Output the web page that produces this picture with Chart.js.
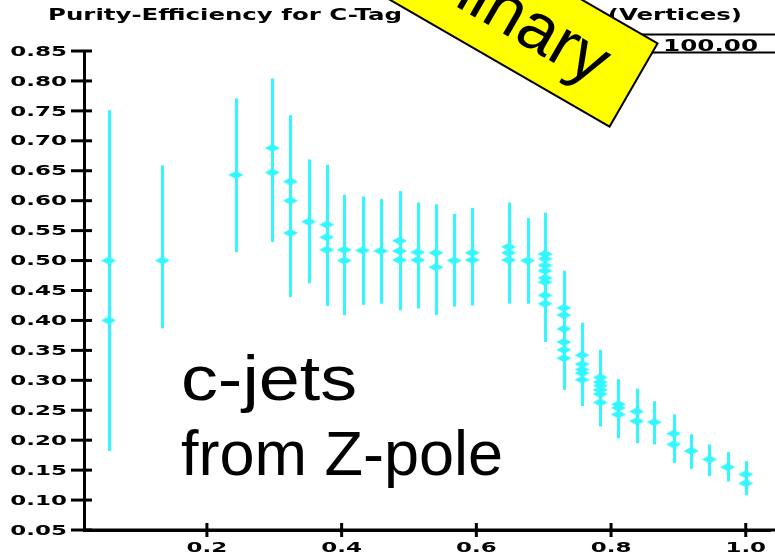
<!DOCTYPE html>
<html>
<head>
<meta charset="utf-8">
<title>Purity-Efficiency for C-Tag</title>
<script src="https://cdn.jsdelivr.net/npm/chart.js@4.4.1/dist/chart.umd.min.js"></script>
<style>
  html, body { margin: 0; padding: 0; background: #fff; }
  #wrap { width: 775px; height: 558px; position: relative; }
</style>
</head>
<body>
<div id="wrap"><canvas id="chart"></canvas></div>
<script>
// Efficiency columns, the purity values measured in each, and the error bar span of the column
const columnEff = [0.054, 0.134, 0.243, 0.297, 0.324, 0.351, 0.378, 0.404, 0.431, 0.458,
  0.486, 0.513, 0.540, 0.567, 0.594, 0.648, 0.676, 0.702, 0.730, 0.757,
  0.784, 0.811, 0.838, 0.864, 0.893, 0.919, 0.946, 0.973, 1.000];
const columnPurity = [
  [0.50, 0.40], [0.50], [0.643], [0.688, 0.647], [0.632, 0.600, 0.546],
  [0.565], [0.560, 0.539, 0.518], [0.518, 0.500], [0.517], [0.516],
  [0.533, 0.516, 0.501], [0.514, 0.501], [0.513, 0.489], [0.500], [0.513, 0.501],
  [0.523, 0.513, 0.501], [0.500],
  [0.511, 0.503, 0.492, 0.483, 0.471, 0.464, 0.442, 0.428],
  [0.421, 0.409, 0.386, 0.364, 0.351, 0.337],
  [0.342, 0.327, 0.318, 0.312, 0.301],
  [0.305, 0.297, 0.291, 0.284, 0.277, 0.263],
  [0.260, 0.254, 0.243], [0.248, 0.232], [0.230], [0.211, 0.193],
  [0.182], [0.168], [0.155], [0.143, 0.128]
];
const columnLow = [0.182, 0.387, 0.514, 0.531, 0.439, 0.462, 0.424, 0.409, 0.426, 0.428,
  0.417, 0.420, 0.409, 0.423, 0.425, 0.428, 0.428, 0.364, 0.284, 0.257,
  0.223, 0.203, 0.195, 0.193, 0.162, 0.152, 0.140, 0.131, 0.108];
const columnHigh = [0.751, 0.659, 0.771, 0.804, 0.743, 0.669, 0.660, 0.610, 0.607, 0.603,
  0.616, 0.597, 0.594, 0.578, 0.588, 0.597, 0.571, 0.580, 0.483, 0.396,
  0.351, 0.302, 0.286, 0.265, 0.243, 0.210, 0.193, 0.180, 0.165];

const xTicks = [0.2, 0.4, 0.6, 0.8, 1.0];
const yTicks = [0.05, 0.10, 0.15, 0.20, 0.25, 0.30, 0.35, 0.40, 0.45, 0.50,
  0.55, 0.60, 0.65, 0.70, 0.75, 0.80, 0.85];

const titleLeft = 'Purity-Efficiency for C-Tag';
const titleRight = '(Vertices)';
const statsValue = '100.00';
const noteLines = ['c-jets', 'from Z-pole'];
const stampText = 'Preliminary';

const CYAN = '#33f6ff';

const points = [];
columnEff.forEach((x, i) => {
  columnPurity[i].forEach(y => points.push({x: x, y: y}));
});

// flattened diamond marker
function makeMarker() {
  const c = document.createElement('canvas');
  c.width = 15;
  c.height = 8;
  const g = c.getContext('2d');
  g.fillStyle = CYAN;
  g.beginPath();
  g.moveTo(0, 4);
  g.lineTo(7.5, 0);
  g.lineTo(15, 4);
  g.lineTo(7.5, 8);
  g.closePath();
  g.fill();
  return c;
}

// text stretched horizontally
function wideText(ctx, text, x, y, align, font, sx) {
  ctx.save();
  ctx.font = font;
  ctx.textAlign = align;
  ctx.translate(x, y);
  ctx.scale(sx, 1);
  ctx.fillText(text, 0, 0);
  ctx.restore();
}

const bold = size => 'bold ' + size + 'px "DejaVu Sans"';

const errorBars = {
  id: 'errorBars',
  beforeDatasetsDraw(chart) {
    const {ctx, scales: {x, y}} = chart;
    ctx.save();
    ctx.strokeStyle = CYAN;
    ctx.lineWidth = 3;
    columnEff.forEach((v, i) => {
      const px = Math.round(x.getPixelForValue(v)) + 0.5;
      ctx.beginPath();
      ctx.moveTo(px, y.getPixelForValue(columnLow[i]));
      ctx.lineTo(px, y.getPixelForValue(columnHigh[i]));
      ctx.stroke();
    });
    ctx.restore();
  }
};

const decorations = {
  id: 'decorations',
  afterDraw(chart) {
    const {ctx, scales: {x, y}} = chart;
    const left = chart.chartArea.left;
    const bottom = chart.chartArea.bottom;
    ctx.save();
    ctx.fillStyle = '#000';
    ctx.strokeStyle = '#000';

    // x axis line runs to the right edge
    ctx.lineWidth = 3;
    ctx.beginPath();
    ctx.moveTo(left, bottom);
    ctx.lineTo(chart.width, bottom);
    ctx.stroke();

    // ticks crossing the axes
    yTicks.forEach(v => {
      const py = y.getPixelForValue(v);
      ctx.beginPath();
      ctx.moveTo(left - 13, py);
      ctx.lineTo(left + 8, py);
      ctx.stroke();
    });
    xTicks.forEach(v => {
      const px = x.getPixelForValue(v);
      ctx.beginPath();
      ctx.moveTo(px, bottom - 7);
      ctx.lineTo(px, bottom + 7);
      ctx.stroke();
    });

    // tick labels
    ctx.textBaseline = 'middle';
    yTicks.forEach(v => {
      wideText(ctx, v.toFixed(2), left - 17, y.getPixelForValue(v) + 1, 'right', bold(14), 1.64);
    });
    xTicks.forEach(v => {
      wideText(ctx, v.toFixed(1), x.getPixelForValue(v), bottom + 18, 'center', bold(14), 1.64);
    });

    // title and stats box
    ctx.textBaseline = 'alphabetic';
    wideText(ctx, titleLeft, 48, 20, 'left', bold(15), 1.63);
    wideText(ctx, titleRight, 742, 20, 'right', bold(15), 1.63);
    ctx.lineWidth = 2;
    ctx.beginPath();
    ctx.moveTo(560, 34.5);
    ctx.lineTo(775, 34.5);
    ctx.moveTo(560, 52.5);
    ctx.lineTo(775, 52.5);
    ctx.stroke();
    wideText(ctx, statsValue, 758, 50.5, 'right', bold(15), 1.64);

    // sample label
    wideText(ctx, noteLines[0], 181, 400, 'left', '63px "Liberation Sans"', 1.17);
    wideText(ctx, noteLines[1], 181, 475, 'left', '63px "Liberation Sans"', 1.0);

    // rotated stamp
    ctx.translate(469, -10);
    ctx.rotate(30 * Math.PI / 180);
    ctx.fillStyle = '#ffff00';
    ctx.fillRect(-190, -48, 380, 96);
    ctx.lineWidth = 2;
    ctx.strokeRect(-190, -48, 380, 96);
    ctx.fillStyle = '#000';
    ctx.font = '68px "Liberation Sans"';
    ctx.textAlign = 'center';
    ctx.textBaseline = 'middle';
    ctx.fillText(stampText, -14, 2);
    ctx.restore();
  }
};

new Chart(document.getElementById('chart'), {
  type: 'scatter',
  data: {
    datasets: [{
      data: points,
      pointStyle: makeMarker(),
      pointRadius: 4,
      pointHoverRadius: 4
    }]
  },
  options: {
    responsive: true,
    maintainAspectRatio: false,
    animation: false,
    events: [],
    layout: {padding: {left: 76, top: 51, right: 0, bottom: 20}},
    plugins: {legend: {display: false}, tooltip: {enabled: false}},
    scales: {
      x: {
        type: 'linear',
        min: 0.0175,
        max: 1.036,
        grid: {display: false},
        ticks: {display: false},
        border: {display: true, color: '#000', width: 3}
      },
      y: {
        type: 'linear',
        min: 0.05,
        max: 0.85,
        grid: {display: false},
        ticks: {display: false},
        border: {display: true, color: '#000', width: 3}
      }
    }
  },
  plugins: [errorBars, decorations]
});
</script>
</body>
</html>
